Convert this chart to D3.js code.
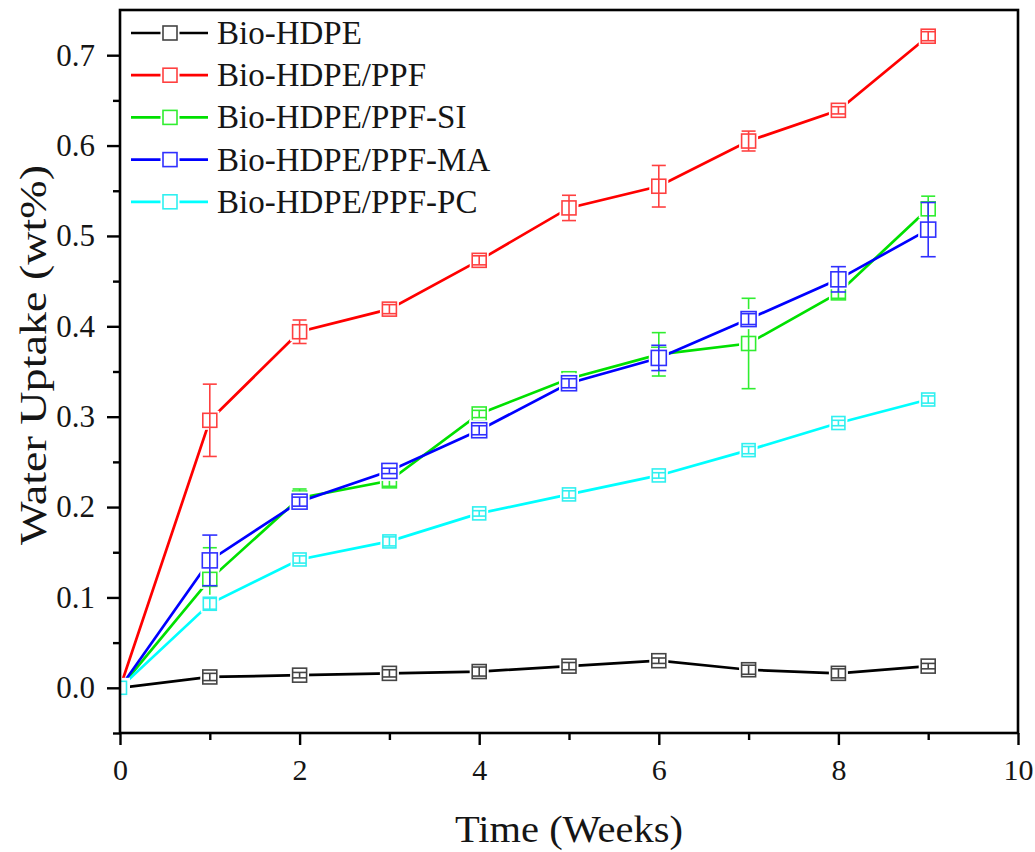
<!DOCTYPE html>
<html>
<head>
<meta charset="utf-8">
<script src="https://cdn.jsdelivr.net/npm/d3@7"></script>
<style>
  html, body { margin: 0; padding: 0; background: #fff; }
  svg { display: block; }
  text { font-family: "Liberation Serif", "DejaVu Serif", serif; fill: #151515; }
</style>
</head>
<body>
<svg id="chart" width="1035" height="852"></svg>
<script>
// ---- data ----
const weeks = [0, 1, 2, 3, 4, 5, 6, 7, 8, 9];
const seriesNames = ["Bio-HDPE", "Bio-HDPE/PPF", "Bio-HDPE/PPF-SI", "Bio-HDPE/PPF-MA", "Bio-HDPE/PPF-PC"];
const hdpe    = [0, 0.012, 0.014, 0.016, 0.018, 0.024, 0.030, 0.020, 0.016, 0.024];
const hdpeErr = [0, 0.004, 0.003, 0.004, 0.005, 0.004, 0.003, 0.005, 0.005, 0.003];
const ppf     = [0, 0.296, 0.394, 0.419, 0.473, 0.531, 0.555, 0.605, 0.639, 0.721];
const ppfErr  = [0, 0.040, 0.013, 0.005, 0.005, 0.014, 0.023, 0.011, 0.004, 0.005];
const si      = [0, 0.120, 0.210, 0.229, 0.303, 0.342, 0.369, 0.381, 0.437, 0.530];
const siErr   = [0, 0.035, 0.010, 0.006, 0.004, 0.004, 0.024, 0.050, 0.006, 0.014];
const ma      = [0, 0.141, 0.206, 0.240, 0.285, 0.337, 0.365, 0.408, 0.452, 0.507];
const maErr   = [0, 0.028, 0.005, 0.003, 0.005, 0.005, 0.014, 0.006, 0.014, 0.030];
const pc      = [0, 0.093, 0.142, 0.162, 0.193, 0.214, 0.235, 0.263, 0.293, 0.319];
const pcErr   = [0, 0.006, 0.004, 0.005, 0.003, 0.004, 0.003, 0.004, 0.003, 0.004];
const xTicks = [0, 2, 4, 6, 8, 10];
const xMinorTicks = [1, 3, 5, 7, 9];
const yTicks = [0.0, 0.1, 0.2, 0.3, 0.4, 0.5, 0.6, 0.7];
const yMinorTicks = [-0.05, 0.05, 0.15, 0.25, 0.35, 0.45, 0.55, 0.65];
const xTitle = "Time (Weeks)";
const yTitle = "Water Uptake (wt%)";

// ---- styles ----
const lineColors   = ["#000000", "#ff0000", "#00e000", "#0000ff", "#00ffff"];
const markerColors = ["#444444", "#ff4040", "#30ee30", "#3030ff", "#30f0f0"];
const markerSizes  = [14, 14, 14, 15, 13];

const series = [
  { vals: hdpe, err: hdpeErr },
  { vals: ppf, err: ppfErr },
  { vals: si, err: siErr },
  { vals: ma, err: maErr },
  { vals: pc, err: pcErr }
].map((s, i) => ({ ...s, name: seriesNames[i], line: lineColors[i], marker: markerColors[i], size: markerSizes[i] }));

const svg = d3.select("#chart");
const L = 120, R = 1018, T = 10, B = 733;

const x = d3.scaleLinear().domain([0, 10]).range([L, R]);
const y = d3.scaleLinear().domain([-0.05, 0.75]).range([B, T]);

svg.append("defs").append("clipPath").attr("id", "plotclip")
  .append("rect").attr("x", L).attr("y", T).attr("width", R - L).attr("height", B - T);

const plot = svg.append("g").attr("clip-path", "url(#plotclip)");

// lines
series.forEach(s => {
  plot.append("path")
    .datum(weeks.map((w, i) => [w, s.vals[i]]))
    .attr("fill", "none")
    .attr("stroke", s.line)
    .attr("stroke-width", 2.7)
    .attr("d", d3.line().x(d => x(d[0])).y(d => y(d[1])));
});

// markers + error bars
series.forEach(s => {
  const g = plot.append("g");
  weeks.forEach((w, i) => {
    const cx = x(w), cy = y(s.vals[i]), h = s.size / 2;
    g.append("rect")
      .attr("x", cx - h - 2.5).attr("y", cy - h - 2.5)
      .attr("width", s.size + 5).attr("height", s.size + 5)
      .attr("fill", "#fff");
    g.append("rect")
      .attr("x", cx - h).attr("y", cy - h)
      .attr("width", s.size).attr("height", s.size)
      .attr("fill", "none").attr("stroke", s.marker).attr("stroke-width", 1.6);
    if (s.err[i] > 0) {
      const y1 = y(s.vals[i] + s.err[i]), y2 = y(s.vals[i] - s.err[i]);
      g.append("line").attr("x1", cx).attr("x2", cx).attr("y1", y1).attr("y2", y2)
        .attr("stroke", s.marker).attr("stroke-width", 1.6);
      [y1, y2].forEach(yy => g.append("line")
        .attr("x1", cx - h).attr("x2", cx + h).attr("y1", yy).attr("y2", yy)
        .attr("stroke", s.marker).attr("stroke-width", 1.6));
    }
  });
});

// axes
const axisBottom = svg.append("g").attr("transform", `translate(0,${B})`)
  .call(d3.axisBottom(x).tickValues(xTicks).tickSize(12).tickSizeOuter(0).tickPadding(14).tickFormat(d3.format("d")));
const axisBottomMinor = svg.append("g").attr("transform", `translate(0,${B})`)
  .call(d3.axisBottom(x).tickValues(xMinorTicks).tickSize(7).tickSizeOuter(0).tickFormat(""));
const axisLeft = svg.append("g").attr("transform", `translate(${L},0)`)
  .call(d3.axisLeft(y).tickValues(yTicks).tickSize(13).tickSizeOuter(0).tickPadding(12).tickFormat(d3.format(".1f")));
const axisLeftMinor = svg.append("g").attr("transform", `translate(${L},0)`)
  .call(d3.axisLeft(y).tickValues(yMinorTicks).tickSize(7).tickSizeOuter(0).tickFormat(""));

[axisBottom, axisBottomMinor, axisLeft, axisLeftMinor].forEach(a => {
  a.attr("font-family", "Liberation Serif").attr("font-size", null);
  a.select(".domain").remove();
  a.selectAll(".tick line").attr("stroke", "#000").attr("stroke-width", 2.4);
});
axisBottom.selectAll(".tick text").attr("font-size", 30).style("font-family", "'Liberation Serif', serif").attr("fill", "#151515");
axisLeft.selectAll(".tick text").attr("font-size", 31).style("font-family", "'Liberation Serif', serif").attr("fill", "#151515");

// frame
svg.append("rect").attr("x", L).attr("y", T).attr("width", R - L).attr("height", B - T)
  .attr("fill", "none").attr("stroke", "#000").attr("stroke-width", 2.6);

// titles
svg.append("text").attr("x", 569).attr("y", 842).attr("text-anchor", "middle")
  .attr("font-size", 38).attr("textLength", 228).attr("lengthAdjust", "spacingAndGlyphs").text(xTitle);
svg.append("text").attr("transform", `translate(46,355) rotate(-90)`).attr("text-anchor", "middle")
  .attr("font-size", 37).attr("textLength", 380).attr("lengthAdjust", "spacingAndGlyphs").text(yTitle);

// legend
const legend = svg.append("g");
series.forEach((s, i) => {
  const cy = 33 + i * 42.2;
  legend.append("line").attr("x1", 131).attr("x2", 208).attr("y1", cy).attr("y2", cy)
    .attr("stroke", s.line).attr("stroke-width", 2.7);
  legend.append("rect").attr("x", 170 - 9.5).attr("y", cy - 9.5).attr("width", 19).attr("height", 19).attr("fill", "#fff");
  legend.append("rect").attr("x", 170 - 7).attr("y", cy - 7).attr("width", 14).attr("height", 14)
    .attr("fill", "none").attr("stroke", s.marker).attr("stroke-width", 1.6);
  legend.append("text").attr("x", 217).attr("y", cy + 11).attr("font-size", 33).text(s.name);
});
</script>
</body>
</html>
